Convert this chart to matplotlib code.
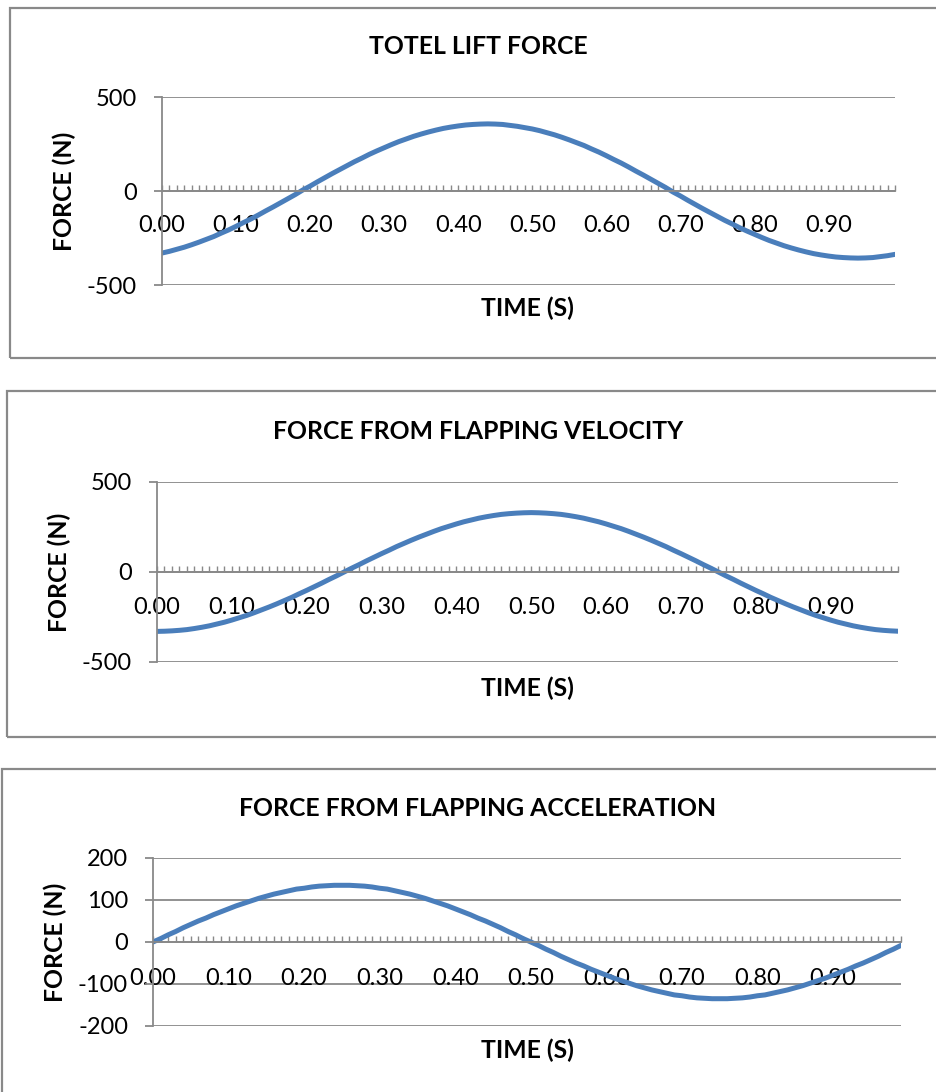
import matplotlib
matplotlib.use("Agg")
import matplotlib.pyplot as plt
from matplotlib.patches import Rectangle

plt.rcParams['font.family'] = ['Lato', 'DejaVu Sans']
plt.rcParams['axes.unicode_minus'] = False

# ---- data -------------------------------------------------------------
time_s = [i / 100 for i in range(100)]          # categories 0.00 ... 0.99 s

total_lift = [
    -330, -321, -310, -299, -286, -272, -257, -242, -224, -207,
    -188, -168, -149, -128, -106, -85, -63, -41, -19, 5,
    26, 49, 71, 93, 114, 135, 156, 175, 195, 213,
    230, 247, 263, 277, 291, 303, 314, 324, 333, 340,
    346, 351, 354, 356, 357, 356, 354, 349, 344, 337,
    330, 321, 310, 299, 286, 272, 257, 242, 224, 207,
    188, 168, 149, 128, 106, 85, 63, 41, 19, -5,
    -26, -49, -71, -93, -114, -135, -156, -175, -195, -213,
    -230, -247, -263, -277, -291, -303, -314, -324, -333, -340,
    -346, -351, -354, -356, -357, -356, -354, -349, -344, -337,
]

velocity_force = [
    -330, -329, -327, -324, -320, -314, -307, -299, -289, -279,
    -267, -254, -241, -226, -210, -194, -177, -159, -141, -121,
    -102, -82, -62, -41, -21, 0, 21, 41, 62, 82,
    102, 121, 141, 159, 177, 194, 210, 226, 241, 254,
    267, 279, 289, 299, 307, 314, 320, 324, 327, 329,
    330, 329, 327, 324, 320, 314, 307, 299, 289, 279,
    267, 254, 241, 226, 210, 194, 177, 159, 141, 121,
    102, 82, 62, 41, 21, 0, -21, -41, -62, -82,
    -102, -121, -141, -159, -177, -194, -210, -226, -241, -254,
    -267, -279, -289, -299, -307, -314, -320, -324, -327, -329,
]

acceleration_force = [
    0, 8, 17, 25, 34, 42, 50, 57, 65, 72,
    79, 86, 92, 98, 104, 109, 114, 118, 122, 126,
    128, 131, 133, 134, 135, 135, 135, 134, 133, 131,
    128, 126, 122, 118, 114, 109, 104, 98, 92, 86,
    79, 72, 65, 57, 50, 42, 34, 25, 17, 8,
    0, -8, -17, -25, -34, -42, -50, -57, -65, -72,
    -79, -86, -92, -98, -104, -109, -114, -118, -122, -126,
    -128, -131, -133, -134, -135, -135, -135, -134, -133, -131,
    -128, -126, -122, -118, -114, -109, -104, -98, -92, -86,
    -79, -72, -65, -57, -50, -42, -34, -25, -17, -8,
]

x_tick_labels = ["0.00", "0.10", "0.20", "0.30", "0.40",
                 "0.50", "0.60", "0.70", "0.80", "0.90"]

titles = ["TOTEL LIFT FORCE",
          "FORCE FROM FLAPPING VELOCITY",
          "FORCE FROM FLAPPING ACCELERATION"]
x_label = "TIME (S)"
y_label = "FORCE (N)"

yticks_big = [-500, 0, 500]
yticks_small = [-200, -100, 0, 100, 200]

# ---- layout (pixels) --------------------------------------------------
W, H = 937, 1092
fig = plt.figure(figsize=(W / 100, H / 100), dpi=100)

def fx(px):
    return px / W

def fy(py):
    return 1 - py / H

LINE_BLUE = '#4A7EBB'
GRAY = '#898989'
TICK_FS = 17
BOLD_FS = 17.8

panels = [
    dict(series=total_lift, yticks=yticks_big, box=(10, 8, 358),
         plot=(162, 895, 97, 285), title_y=47, xlab_y=308, ylab_x=64, pad=17),
    dict(series=velocity_force, yticks=yticks_big, box=(7, 391, 737),
         plot=(157, 898, 482, 662), title_y=432, xlab_y=688, ylab_x=59, pad=18),
    dict(series=acceleration_force, yticks=yticks_small, box=(2, 769, 1100),
         plot=(153, 901, 858, 1026), title_y=808, xlab_y=1050, ylab_x=55, pad=19),
]

for p, title in zip(panels, titles):
    # chart frame
    bx, btop, bbot = p['box']
    fig.patches.append(Rectangle((fx(bx), fy(bbot)), fx(W + 20 - bx), fy(btop) - fy(bbot),
                                 transform=fig.transFigure, fill=False,
                                 edgecolor=GRAY, linewidth=1.6, zorder=0))

    x0, x1, y0, y1 = p['plot']
    ax = fig.add_axes([fx(x0), fy(y1), fx(x1 - x0), fy(y0) - fy(y1)])
    ax.patch.set_alpha(0)

    yt = p['yticks']
    for v in yt:
        ax.axhline(v, color=GRAY, lw=1.3, zorder=0.5)
    ax.plot(time_s, p['series'], color=LINE_BLUE, lw=3.6,
            solid_capstyle='round', zorder=2)

    ax.set_xlim(time_s[0], time_s[-1])
    ax.set_ylim(yt[0], yt[-1])

    ax.set_yticks(yt)
    ax.set_yticklabels([str(v) for v in yt])
    ax.set_xticks(time_s)
    ax.set_xticklabels([x_tick_labels[i // 10] if i % 10 == 0 else ''
                        for i in range(len(time_s))])

    for side in ('top', 'right'):
        ax.spines[side].set_visible(False)
    ax.spines['bottom'].set_position(('data', 0))
    ax.spines['bottom'].set_color(GRAY)
    ax.spines['bottom'].set_linewidth(1.3)
    ax.spines['left'].set_color(GRAY)
    ax.spines['left'].set_linewidth(1.3)

    ax.tick_params(axis='x', direction='in', length=4.5, width=1.0,
                   color=GRAY, pad=p['pad'], labelsize=TICK_FS, labelcolor='black')
    ax.tick_params(axis='y', direction='out', length=6, width=1.3,
                   color=GRAY, pad=12, labelsize=TICK_FS, labelcolor='black')

    fig.text(fx(478), fy(p['title_y']), title, ha='center', va='center',
             fontsize=BOLD_FS, fontweight='bold')
    fig.text(fx(527), fy(p['xlab_y']), x_label, ha='center', va='center',
             fontsize=BOLD_FS, fontweight='bold')
    fig.text(fx(p['ylab_x']), (fy(y0) + fy(y1)) / 2, y_label, ha='center',
             va='center', rotation=90, fontsize=BOLD_FS, fontweight='bold')

fig.savefig('out.png', dpi=100)
